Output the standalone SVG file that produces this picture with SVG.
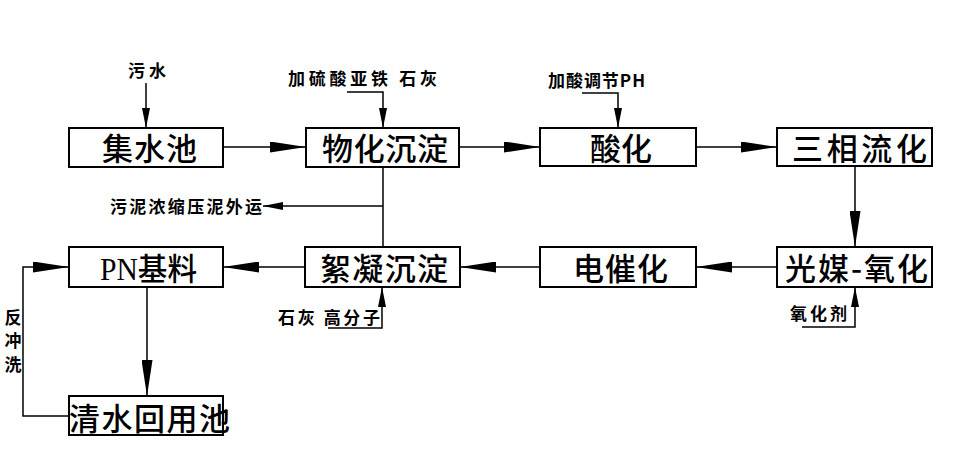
<svg xmlns="http://www.w3.org/2000/svg" width="956" height="454" viewBox="0 0 956 454">
<style>
.box{fill:#fff;stroke:#000;stroke-width:2}
.bt{font-family:"Noto Sans CJK SC","Noto Sans CJK JP",sans-serif;font-size:31px;font-weight:500;fill:#000;text-anchor:middle}
.lb{font-family:"Noto Sans CJK SC","Noto Sans CJK JP",sans-serif;font-size:17px;font-weight:bold;fill:#000}
.ln{fill:none;stroke:#000;stroke-width:1.5}
.big{marker-end:url(#big)}
.sm{marker-end:url(#sm)}
</style>
<defs>
<marker id="big" markerUnits="userSpaceOnUse" viewBox="0 0 36 11" markerWidth="36" markerHeight="11" refX="36" refY="5.5" orient="auto"><path d="M0,0 L36,5.5 L0,11 Z" fill="#000"/></marker>
<marker id="sm" markerUnits="userSpaceOnUse" viewBox="0 0 20 8" markerWidth="20" markerHeight="8" refX="20" refY="4" orient="auto"><path d="M0,0 L20,4 L0,8 Z" fill="#000"/></marker>
</defs>
<rect width="956" height="454" fill="#fff"/>
<g id="connectors">
<path class="ln sm" d="M146,83 V128"/>
<path class="ln big" d="M223,147 H306"/>
<path class="ln sm" d="M347,92 H383 V128"/>
<path class="ln big" d="M459,147 H540"/>
<path class="ln sm" d="M582,93 H618 V128"/>
<path class="ln big" d="M696,147 H777"/>
<path class="ln big" d="M855,166 V247"/>
<path class="ln big" d="M777,267 H696"/>
<path class="ln big" d="M540,267 H460"/>
<path class="ln big" d="M305,267 H223"/>
<path class="ln" d="M383,167 V247"/>
<path class="ln sm" d="M383,206 H263"/>
<path class="ln sm" d="M328,328 H382 V287"/>
<path class="ln sm" d="M802,327 H855 V287"/>
<path class="ln big" d="M147,287 V396"/>
<path class="ln big" d="M69,416 H23 V267 H69"/>
</g>
<g id="n1"><rect class="box" x="69" y="128" width="154" height="39"/><text class="bt" x="149.5" y="160" textLength="95">集水池</text></g>
<g id="n2"><rect class="box" x="306" y="128" width="153" height="39"/><text class="bt" x="385" y="160" textLength="126">物化沉淀</text></g>
<g id="n3"><rect class="box" x="540" y="128" width="156" height="38"/><text class="bt" x="621" y="160" textLength="62">酸化</text></g>
<g id="n4"><rect class="box" x="777" y="128" width="155" height="38"/><text class="bt" x="859.5" y="160" textLength="135">三相流化</text></g>
<g id="n5"><rect class="box" x="777" y="247" width="155" height="40"/><text class="bt" x="856.5" y="279.5" textLength="143">光媒-氧化</text></g>
<g id="n6"><rect class="box" x="540" y="247" width="156" height="40"/><text class="bt" x="620.5" y="279.5" textLength="95">电催化</text></g>
<g id="n7"><rect class="box" x="305" y="247" width="155" height="40"/><text class="bt" x="384" y="279.5" textLength="128">絮凝沉淀</text></g>
<g id="n8"><rect class="box" x="69" y="247" width="154" height="40"/><text class="bt" x="148.5" y="279.5" textLength="97" lengthAdjust="spacingAndGlyphs"><tspan font-family="'Liberation Serif','Noto Sans CJK SC',serif">PN</tspan>基料</text></g>
<g id="n9"><rect class="box" x="69" y="396" width="154" height="39"/><text class="bt" x="149.5" y="430" textLength="161">清水回用池</text></g>
<g id="labels">
<text class="lb" x="128" y="77" textLength="38">污水</text>
<text class="lb" x="288" y="85" textLength="149">加硫酸亚铁 石灰</text>
<text class="lb" x="548" y="87" textLength="97">加酸调节PH</text>
<text class="lb" x="110" y="213" textLength="152">污泥浓缩压泥外运</text>
<text class="lb" x="278" y="324" textLength="102">石灰 高分子</text>
<text class="lb" x="790" y="320" textLength="57">氧化剂</text>
<text class="lb" x="13" y="324" text-anchor="middle">反</text>
<text class="lb" x="13" y="347" text-anchor="middle">冲</text>
<text class="lb" x="13" y="371" text-anchor="middle">洗</text>
</g>
</svg>
